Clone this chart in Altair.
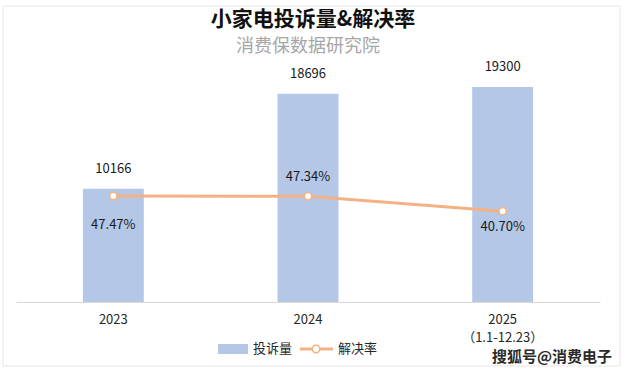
import altair as alt
import pandas as pd

years = ["2023", "2024", "2025"]
complaints = [10166, 18696, 19300]
rates = [47.47, 47.34, 40.70]
rate_labels = ["47.47%", "47.34%", "40.70%"]

title_text = "小家电投诉量&解决率"
subtitle_text = "消费保数据研究院"

df = pd.DataFrame({"year": years, "complaints": complaints, "rate": rates, "rate_label": rate_labels})

FONT = "Noto Sans CJK SC"
BAR = "#B4C7E7"
LINE = "#F4B183"

x = alt.X("year:N", sort=years, scale=alt.Scale(paddingInner=0, paddingOuter=0),
          axis=alt.Axis(title=None, ticks=False, domainColor="#D9D9D9", domainWidth=1,
                        labelAngle=0, labelFont=FONT, labelFontSize=13, labelColor="#262626",
                        labelPadding=11, labelLineHeight=18,
                        labelExpr="datum.value == '2025' ? ['2025', '（1.1-12.23）'] : datum.value"))

ybar = alt.Y("complaints:Q", scale=alt.Scale(domain=[0, 21720]), axis=None)
yline = alt.Y("rate:Q", scale=alt.Scale(domain=[0, 108.4]), axis=None)

base = alt.Chart(df)

bars = base.mark_bar(color=BAR, width=alt.RelativeBandSize(0.313)).encode(x=x, y=ybar)
bar_text = base.mark_text(font=FONT, fontSize=13, color="#1a1a1a", baseline="middle", dy=-20).encode(
    x=x, y=ybar, text="complaints:Q")
bar_layer = alt.layer(bars, bar_text)

line = base.mark_line(color=LINE, strokeWidth=3).encode(x=x, y=yline)
pts = base.mark_point(filled=True, fill="white", stroke=LINE, strokeWidth=1.5, size=55, opacity=1).encode(x=x, y=yline)
offsets = {"2023": 29, "2024": -19, "2025": 16}
rate_texts = [
    base.transform_filter(alt.datum.year == yr).mark_text(
        font=FONT, fontSize=13, color="#1a1a1a", baseline="middle", dy=d).encode(
        x=x, y=yline, text="rate_label:N")
    for yr, d in offsets.items()
]
line_layer = alt.layer(line, pts, *rate_texts)

# title, legend & decorations
one = pd.DataFrame({"k": [0]})
dec = alt.Chart(one)
title = dec.mark_text(text=title_text, font=FONT, fontSize=21, fontWeight="bold", color="#111111",
                      align="center", baseline="middle").encode(x=alt.value(297), y=alt.value(-40))
subtitle = dec.mark_text(text=subtitle_text, font=FONT, fontSize=18, color="#A6A6A6",
                         align="center", baseline="middle").encode(x=alt.value(292), y=alt.value(-13))
leg_rect = dec.mark_rect(color=BAR).encode(x=alt.value(202), x2=alt.value(232), y=alt.value(284), y2=alt.value(294))
leg_t1 = dec.mark_text(text="投诉量", font=FONT, fontSize=13, color="#262626", align="left", baseline="middle").encode(
    x=alt.value(237), y=alt.value(289))
leg_line = dec.mark_rule(color=LINE, strokeWidth=3).encode(x=alt.value(284), x2=alt.value(317), y=alt.value(289))
leg_pt = dec.mark_point(filled=True, fill="white", stroke=LINE, strokeWidth=1.5, size=55, opacity=1).encode(
    x=alt.value(300), y=alt.value(289))
leg_t2 = dec.mark_text(text="解决率", font=FONT, fontSize=13, color="#262626", align="left", baseline="middle").encode(
    x=alt.value(322), y=alt.value(289))
wm = dec.mark_text(text="搜狐号@消费电子", font=FONT, fontSize=15, fontWeight="bold", color="#2a2a2a",
                   align="right", baseline="middle").encode(x=alt.value(596), y=alt.value(297))
frame = dec.mark_rect(fill="transparent", stroke="#E6E6E6", strokeWidth=1).encode(
    x=alt.value(-13), x2=alt.value(604), y=alt.value(-54), y2=alt.value(306))

chart = alt.layer(
    bar_layer, line_layer, frame, title, subtitle, leg_rect, leg_t1, leg_line, leg_pt, leg_t2, wm
).resolve_scale(y="independent").properties(
    width=584, height=242,
    padding={"left": 16, "top": 60, "right": 28, "bottom": 75},
    autosize=alt.AutoSizeParams(type="none"),
    background="white",
).configure_view(strokeWidth=0, stroke="transparent")

chart.save("out.html", embed_options={"renderer": "svg", "actions": False})
